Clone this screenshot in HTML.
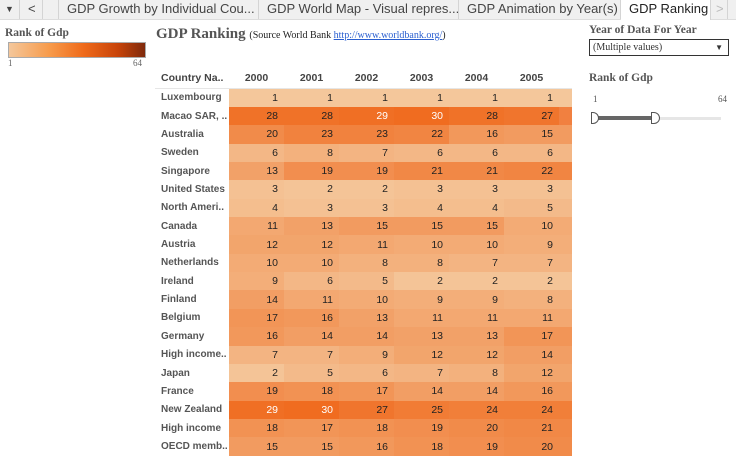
<!DOCTYPE html>
<html><head><meta charset="utf-8"><style>
body{margin:0;width:736px;height:454px;overflow:hidden;background:#fff;font-family:"Liberation Sans",sans-serif;position:relative}
.tabs{position:absolute;left:0;top:0;width:736px;height:19px;background:#f0f0f0;border-bottom:1px solid #ddd}
.tab{position:absolute;top:0;height:19px;border-right:1px solid #d4d4d4;font-size:13px;color:#444;line-height:18px;white-space:nowrap;overflow:hidden;box-sizing:border-box;padding-left:8px}
.serif{font-family:"Liberation Serif",serif}
table{position:absolute;left:155px;top:67px;width:417px;border-collapse:collapse;table-layout:fixed;font-size:10.5px}
td{height:18.37px;padding:0;box-sizing:border-box;text-align:right;padding-right:6px;color:#222;white-space:nowrap;overflow:hidden;vertical-align:middle}
td.n{text-align:left;padding-left:6px;font-weight:bold;color:#555;font-size:10px}
th{font-size:10.5px;color:#444;height:19px;text-align:center;font-weight:bold;white-space:nowrap;overflow:hidden}
tr.h th{border-bottom:1px solid #e6e6e6}
.w{color:#fff}
</style></head><body>
<div class="tabs">
<div class="tab" style="left:0;width:20px;padding-left:5px;font-size:9px">▼</div>
<div class="tab" style="left:20px;width:23px">&lt;</div>
<div class="tab" style="left:43px;width:16px"></div>
<div class="tab" style="left:59px;width:200px">GDP Growth by Individual Cou...</div>
<div class="tab" style="left:259px;width:200px">GDP World Map - Visual repres...</div>
<div class="tab" style="left:459px;width:162px">GDP Animation by Year(s)</div>
<div class="tab" style="left:621px;width:90px;background:#fff;color:#222;height:20px">GDP Ranking</div>
<div class="tab" style="left:712px;width:16px;color:#bbb;padding-left:4px">&gt;</div>
</div>
<div class="serif" style="position:absolute;left:5px;top:27px;font-size:11.5px;font-weight:bold;color:#555">Rank of Gdp</div>
<div style="position:absolute;left:8px;top:42px;width:136px;height:14px;border:1px solid #aaa;background:linear-gradient(to right,#f4c79b,#f79a4a 30%,#ef6a1a 55%,#c8440a 80%,#7f2a0c)"></div>
<div class="serif" style="position:absolute;left:8px;top:58px;font-size:9px;color:#666">1</div>
<div class="serif" style="position:absolute;left:133px;top:58px;font-size:9px;color:#666">64</div>
<div class="serif" style="position:absolute;left:156px;top:26px;font-size:15px;font-weight:bold;color:#555;white-space:nowrap">GDP Ranking <span style="font-size:10px;font-weight:normal;color:#222">(Source World Bank <span style="color:#2a5fd0;text-decoration:underline">http://www.worldbank.org/</span>)</span></div>
<div class="serif" style="position:absolute;left:589px;top:24px;font-size:11.5px;font-weight:bold;color:#555">Year of Data For Year</div>
<div class="serif" style="position:absolute;left:589px;top:39px;width:140px;height:17px;border:1px solid #333;box-sizing:border-box;font-size:10px;color:#333;line-height:15px;padding-left:3px">(Multiple values)<span style="position:absolute;right:5px;font-size:8px">▼</span></div>
<div class="serif" style="position:absolute;left:589px;top:72px;font-size:11.5px;font-weight:bold;color:#555">Rank of Gdp</div>
<div class="serif" style="position:absolute;left:593px;top:94px;font-size:9px;color:#555">1</div>
<div class="serif" style="position:absolute;left:718px;top:94px;font-size:9px;color:#555">64</div>
<div style="position:absolute;left:596px;top:117px;width:125px;height:3px;background:#e6e6e6"></div>
<div style="position:absolute;left:596px;top:116px;width:59px;height:4px;background:#666"></div>
<div style="position:absolute;left:591px;top:112px;width:8px;height:12px;border:1px solid #555;border-radius:0 6px 6px 0;background:#fff;box-sizing:border-box"></div>
<div style="position:absolute;left:651px;top:112px;width:9px;height:12px;border:1px solid #555;border-radius:0 6px 6px 0;background:#fff;box-sizing:border-box"></div>
<table>
<colgroup><col style="width:74px"><col style="width:55px"><col style="width:55px"><col style="width:55px"><col style="width:55px"><col style="width:55px"><col style="width:55px"><col style="width:13px"></colgroup>
<tr class="h"><th style="text-align:left;padding-left:6px">Country Na..</th><th>2000</th><th>2001</th><th>2002</th><th>2003</th><th>2004</th><th>2005</th><th></th></tr>
<tr><td class="n">Luxembourg</td><td style="background:#f4c79b">1</td><td style="background:#f4c79b">1</td><td style="background:#f4c79b">1</td><td style="background:#f4c79b">1</td><td style="background:#f4c79b">1</td><td style="background:#f4c79b">1</td><td style="background:#f4c79b"></td></tr>
<tr><td class="n">Macao SAR, ..</td><td style="background:#f07228">28</td><td style="background:#f07228">28</td><td class="w" style="background:#f06f24">29</td><td class="w" style="background:#f06c20">30</td><td style="background:#f07228">28</td><td style="background:#f0752d">27</td><td style="background:#f18040"></td></tr>
<tr><td class="n">Australia</td><td style="background:#f18b4a">20</td><td style="background:#f1823e">23</td><td style="background:#f1823e">23</td><td style="background:#f18542">22</td><td style="background:#f2985b">16</td><td style="background:#f29b60">15</td><td style="background:#f29b60"></td></tr>
<tr><td class="n">Sweden</td><td style="background:#f3b786">6</td><td style="background:#f3b17d">8</td><td style="background:#f3b482">7</td><td style="background:#f3b786">6</td><td style="background:#f3b786">6</td><td style="background:#f3b786">6</td><td style="background:#f3b786"></td></tr>
<tr><td class="n">Singapore</td><td style="background:#f2a168">13</td><td style="background:#f28e4f">19</td><td style="background:#f28e4f">19</td><td style="background:#f18846">21</td><td style="background:#f18846">21</td><td style="background:#f18542">22</td><td style="background:#f18542"></td></tr>
<tr><td class="n">United States</td><td style="background:#f4c193">3</td><td style="background:#f4c497">2</td><td style="background:#f4c497">2</td><td style="background:#f4c193">3</td><td style="background:#f4c193">3</td><td style="background:#f4c193">3</td><td style="background:#f4c193"></td></tr>
<tr><td class="n">North Ameri..</td><td style="background:#f4be8e">4</td><td style="background:#f4c193">3</td><td style="background:#f4c193">3</td><td style="background:#f4be8e">4</td><td style="background:#f4be8e">4</td><td style="background:#f3ba8a">5</td><td style="background:#f3ba8a"></td></tr>
<tr><td class="n">Canada</td><td style="background:#f3a871">11</td><td style="background:#f2a168">13</td><td style="background:#f29b60">15</td><td style="background:#f29b60">15</td><td style="background:#f29b60">15</td><td style="background:#f3ab75">10</td><td style="background:#f3ab75"></td></tr>
<tr><td class="n">Austria</td><td style="background:#f2a56c">12</td><td style="background:#f2a56c">12</td><td style="background:#f3a871">11</td><td style="background:#f3ab75">10</td><td style="background:#f3ab75">10</td><td style="background:#f3ae79">9</td><td style="background:#f3ae79"></td></tr>
<tr><td class="n">Netherlands</td><td style="background:#f3ab75">10</td><td style="background:#f3ab75">10</td><td style="background:#f3b17d">8</td><td style="background:#f3b17d">8</td><td style="background:#f3b482">7</td><td style="background:#f3b482">7</td><td style="background:#f3b482"></td></tr>
<tr><td class="n">Ireland</td><td style="background:#f3ae79">9</td><td style="background:#f3b786">6</td><td style="background:#f3ba8a">5</td><td style="background:#f4c497">2</td><td style="background:#f4c497">2</td><td style="background:#f4c497">2</td><td style="background:#f4c497"></td></tr>
<tr><td class="n">Finland</td><td style="background:#f29e64">14</td><td style="background:#f3a871">11</td><td style="background:#f3ab75">10</td><td style="background:#f3ae79">9</td><td style="background:#f3ae79">9</td><td style="background:#f3b17d">8</td><td style="background:#f3b17d"></td></tr>
<tr><td class="n">Belgium</td><td style="background:#f29557">17</td><td style="background:#f2985b">16</td><td style="background:#f2a168">13</td><td style="background:#f3a871">11</td><td style="background:#f3a871">11</td><td style="background:#f3a871">11</td><td style="background:#f3a871"></td></tr>
<tr><td class="n">Germany</td><td style="background:#f2985b">16</td><td style="background:#f29e64">14</td><td style="background:#f29e64">14</td><td style="background:#f2a168">13</td><td style="background:#f2a168">13</td><td style="background:#f29557">17</td><td style="background:#f29557"></td></tr>
<tr><td class="n">High income..</td><td style="background:#f3b482">7</td><td style="background:#f3b482">7</td><td style="background:#f3ae79">9</td><td style="background:#f2a56c">12</td><td style="background:#f2a56c">12</td><td style="background:#f29e64">14</td><td style="background:#f29e64"></td></tr>
<tr><td class="n">Japan</td><td style="background:#f4c497">2</td><td style="background:#f3ba8a">5</td><td style="background:#f3b786">6</td><td style="background:#f3b482">7</td><td style="background:#f3b17d">8</td><td style="background:#f2a56c">12</td><td style="background:#f2a56c"></td></tr>
<tr><td class="n">France</td><td style="background:#f28e4f">19</td><td style="background:#f29253">18</td><td style="background:#f29557">17</td><td style="background:#f29e64">14</td><td style="background:#f29e64">14</td><td style="background:#f2985b">16</td><td style="background:#f2985b"></td></tr>
<tr><td class="n">New Zealand</td><td class="w" style="background:#f06f24">29</td><td class="w" style="background:#f06c20">30</td><td style="background:#f0752d">27</td><td style="background:#f17c35">25</td><td style="background:#f17f39">24</td><td style="background:#f17f39">24</td><td style="background:#f17f39"></td></tr>
<tr><td class="n">High income</td><td style="background:#f29253">18</td><td style="background:#f29557">17</td><td style="background:#f29253">18</td><td style="background:#f28e4f">19</td><td style="background:#f18b4a">20</td><td style="background:#f18846">21</td><td style="background:#f18846"></td></tr>
<tr><td class="n">OECD memb..</td><td style="background:#f29b60">15</td><td style="background:#f29b60">15</td><td style="background:#f2985b">16</td><td style="background:#f29253">18</td><td style="background:#f28e4f">19</td><td style="background:#f18b4a">20</td><td style="background:#f18b4a"></td></tr>
</table>
</body></html>
